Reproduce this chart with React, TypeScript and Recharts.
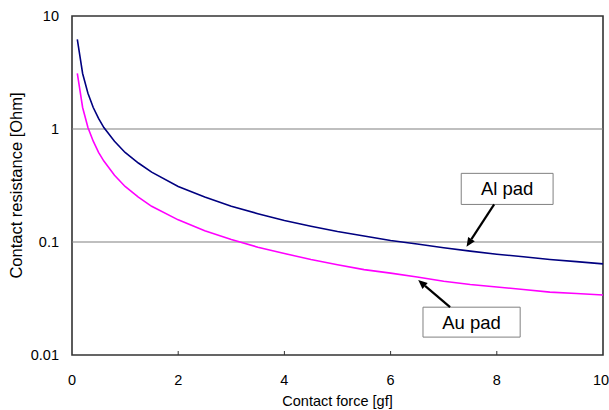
import {
  LineChart,
  Line,
  XAxis,
  YAxis,
  ReferenceLine,
  ReferenceArea,
} from 'recharts';

// contact force [gf]
const force = [0.1, 0.2, 0.3, 0.4, 0.5, 0.6, 0.8, 1, 1.25, 1.5, 2, 2.5, 3, 3.5, 4, 4.5, 5, 5.5, 6, 6.5, 7, 7.5, 8, 8.5, 9, 9.5, 10];
// contact resistance [Ohm]
const alPad = [6.2, 3.1, 2.07, 1.55, 1.24, 1.03, 0.78, 0.62, 0.5, 0.415, 0.31, 0.25, 0.207, 0.178, 0.155, 0.138, 0.124, 0.113, 0.103, 0.096, 0.089, 0.083, 0.078, 0.074, 0.07, 0.067, 0.064];
const auPad = [3.1, 1.55, 1.03, 0.78, 0.62, 0.52, 0.39, 0.31, 0.25, 0.207, 0.157, 0.126, 0.105, 0.09, 0.079, 0.07, 0.063, 0.057, 0.053, 0.049, 0.045, 0.042, 0.04, 0.038, 0.036, 0.035, 0.034];

const xTicks = [0, 2, 4, 6, 8, 10];
const yTicks = [0.01, 0.1, 1, 10];

const data = force.map((f, i) => ({ force: f, al: alPad[i], au: auPad[i] }));

const font = '"Liberation Sans", Arial, sans-serif';

// x ticks: small inward mark + label below
const XTick = (props: any) => {
  const { x, y, payload } = props;
  const v = payload.value;
  return (
    <g>
      {v > 0 && v < 10 && <line x1={x} x2={x} y1={y} y2={y - 4} stroke="#333" strokeWidth={1} />}
      <text x={x} y={y + 30} textAnchor="middle" fontSize={14.5} fontFamily={font} fill="#000">
        {v}
      </text>
    </g>
  );
};

// arrow for the annotation boxes
const Arrow = (props: any) => {
  const { x1, y1, x2, y2 } = props;
  const ang = Math.atan2(y2 - y1, x2 - x1);
  const len = 9;
  const w = 4;
  const bx = x2 - len * Math.cos(ang);
  const by = y2 - len * Math.sin(ang);
  const px = -Math.sin(ang) * w;
  const py = Math.cos(ang) * w;
  return (
    <g>
      <line x1={x1} y1={y1} x2={bx} y2={by} stroke="#000" strokeWidth={2.2} />
      <polygon points={`${x2},${y2} ${bx + px},${by + py} ${bx - px},${by - py}`} fill="#000" />
    </g>
  );
};

const App = () => {
  return (
    <div style={{ width: 609, height: 410, background: '#fff' }}>
      <style>{'body{margin:0}'}</style>
      <LineChart
        width={609}
        height={410}
        data={data}
        margin={{ top: 16, right: 6, left: 0, bottom: 0 }}
      >
        <XAxis
          dataKey="force"
          type="number"
          domain={[0, 10]}
          ticks={xTicks}
          axisLine={false}
          tickLine={false}
          tickSize={0}
          tickMargin={0}
          height={55}
          tick={<XTick />}
          label={{ value: 'Contact force [gf]', position: 'insideBottom', offset: 4, fontSize: 14.5, fill: '#000', fontFamily: font }}
        />
        <YAxis
          scale="log"
          domain={[0.01, 10]}
          ticks={yTicks}
          allowDataOverflow
          axisLine={false}
          tickLine={false}
          tickSize={0}
          tickMargin={13}
          width={72}
          tick={{ fontSize: 14.5, fill: '#000', fontFamily: font }}
          label={{
            value: 'Contact resistance [Ohm]',
            angle: -90,
            position: 'insideLeft',
            offset: 16,
            fontSize: 16.5,
            fill: '#000',
            fontFamily: font,
            style: { textAnchor: 'middle' },
          }}
        />

        {/* grid lines */}
        <ReferenceLine y={1} stroke="#808080" strokeWidth={1.2} />
        <ReferenceLine y={0.1} stroke="#808080" strokeWidth={1.2} />

        <Line type="linear" dataKey="al" stroke="#000080" strokeWidth={1.6} dot={false} isAnimationActive={false} />
        <Line type="linear" dataKey="au" stroke="#FF00FF" strokeWidth={1.6} dot={false} isAnimationActive={false} />

        {/* plot frame */}
        <ReferenceArea x1={0} x2={10} y1={0.01} y2={10} fill="none" fillOpacity={0} stroke="#333" strokeWidth={1.6} ifOverflow="visible" />

        {/* annotations */}
        <ReferenceLine segment={[{ x: 7.95, y: 0.215 }, { x: 7.43, y: 0.091 }]} shape={(p: any) => <Arrow {...p} />} ifOverflow="visible" />
        <ReferenceLine segment={[{ x: 7.12, y: 0.0265 }, { x: 6.52, y: 0.046 }]} shape={(p: any) => <Arrow {...p} />} ifOverflow="visible" />
        <ReferenceArea
          x1={7.33}
          x2={9.06}
          y1={0.215}
          y2={0.405}
          fill="#fff"
          fillOpacity={1}
          stroke="#808080"
          strokeWidth={1}
          ifOverflow="visible"
          label={{ value: 'Al pad', position: 'center', fontSize: 18.5, fill: '#000', fontFamily: font }}
        />
        <ReferenceArea
          x1={6.61}
          x2={8.44}
          y1={0.0144}
          y2={0.0265}
          fill="#fff"
          fillOpacity={1}
          stroke="#808080"
          strokeWidth={1}
          ifOverflow="visible"
          label={{ value: 'Au pad', position: 'center', fontSize: 18.5, fill: '#000', fontFamily: font }}
        />
      </LineChart>
    </div>
  );
};

export default App;
